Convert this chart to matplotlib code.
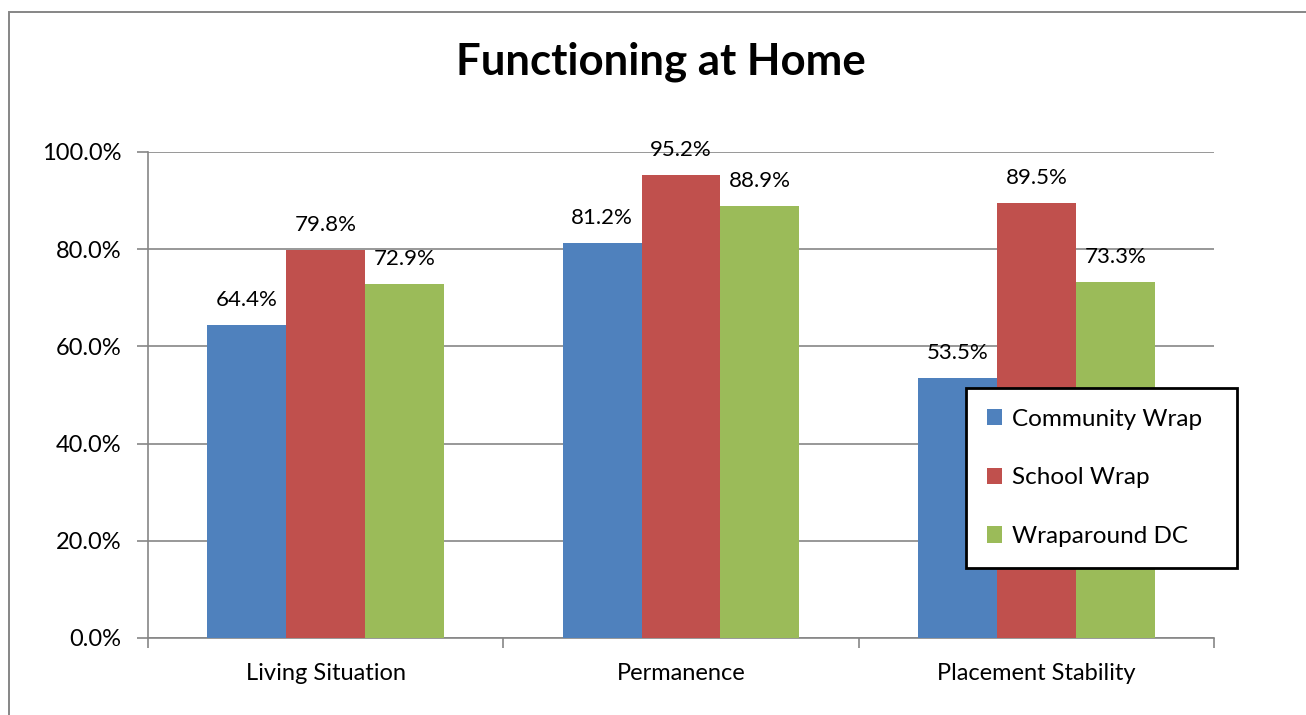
import matplotlib
matplotlib.use("Agg")
import matplotlib.pyplot as plt
import matplotlib.patches as mpatches
import numpy as np

plt.rcParams['font.family'] = ['Lato', 'DejaVu Sans']

# values per program, in percent
categories = ["Living Situation", "Permanence", "Placement Stability"]
community_wrap = [64.4, 81.2, 53.5]
school_wrap = [79.8, 95.2, 89.5]
wraparound_dc = [72.9, 88.9, 73.3]
series_names = ["Community Wrap", "School Wrap", "Wraparound DC"]
colors = ["#4F81BD", "#C0504D", "#9BBB59"]
yticks = [0, 20, 40, 60, 80, 100]

W, H = 1306, 715
fig = plt.figure(figsize=(W / 100, H / 100), dpi=100)
ax = fig.add_axes([148 / W, 1 - 638 / H, (1214 - 148) / W, (638 - 152) / H])

# outer chart frame (runs past the right and bottom edges)
fig.add_artist(mpatches.Rectangle((8.5 / W, -0.5), 2.0, 1 - 11.5 / H + 0.5,
                                  transform=fig.transFigure, fill=False,
                                  edgecolor="#868686", linewidth=1.4))

x = np.arange(len(categories))
bw = 1 / 4.5
series = [community_wrap, school_wrap, wraparound_dc]
for i, (vals, name, col) in enumerate(zip(series, series_names, colors)):
    pos = x + (i - 1) * bw
    ax.bar(pos, vals, width=bw, color=col, label=name, zorder=3)
    for xp, v in zip(pos, vals):
        ax.annotate(f"{v:.1f}%", (xp, v), xytext=(0, 18), textcoords="offset points",
                    ha="center", va="center", fontsize=16, color="black")

ax.set_xlim(-0.5, len(categories) - 0.5)
ax.set_ylim(0, 100)
ax.set_yticks(yticks)
ax.set_yticklabels([f"{t:.1f}%" for t in yticks], fontsize=17)
ax.yaxis.grid(True, color="#868686", linewidth=1.2, zorder=0)

ax.set_xticks(x)
ax.set_xticklabels(categories, fontsize=17)
ax.set_xticks(np.arange(len(categories) + 1) - 0.5, minor=True)
ax.tick_params(axis="x", which="major", length=0, pad=18)
ax.tick_params(axis="x", which="minor", length=7, width=1.2, color="#868686", direction="out")
ax.tick_params(axis="y", length=8, width=1.2, color="#868686", pad=11)

for s in ["top", "right"]:
    ax.spines[s].set_visible(False)
for s in ["left", "bottom"]:
    ax.spines[s].set_color("#868686")
    ax.spines[s].set_linewidth(1.2)

fig.text(661 / W, 1 - 62 / H, "Functioning at Home", ha="center", va="center",
         fontsize=31.5, fontweight="bold")

leg = fig.legend(loc="upper left", bbox_to_anchor=(966 / W, 1 - 567 / H, 271 / W, 179 / H),
                 mode="expand", fontsize=17.5, frameon=True, fancybox=False,
                 borderaxespad=0, framealpha=1, handlelength=0.65, handleheight=0.65,
                 handletextpad=0.4, labelspacing=1.55, borderpad=0.85)
leg.get_frame().set_edgecolor("black")
leg.get_frame().set_linewidth(2)

fig.savefig("out.png", dpi=100)
